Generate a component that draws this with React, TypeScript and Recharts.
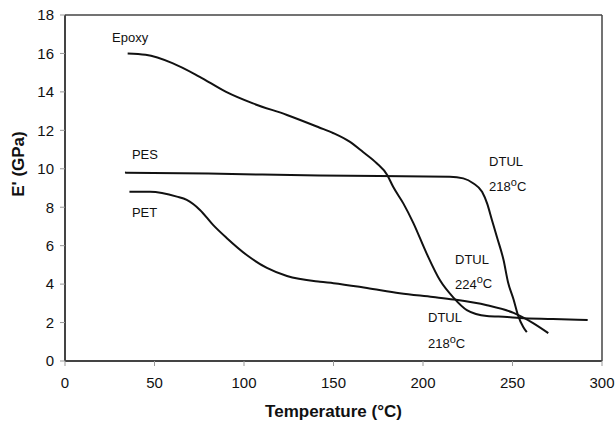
import { LineChart, Line, XAxis, YAxis, ReferenceLine, ReferenceDot, Label } from "recharts";

type Pt = { t: number; e: number };

const xTicks = [0, 50, 100, 150, 200, 250, 300];
const yTicks = [0, 2, 4, 6, 8, 10, 12, 14, 16, 18];

const epoxy: Pt[] = [
  { t: 35, e: 16.0 }, { t: 45, e: 15.93 }, { t: 60, e: 15.5 }, { t: 75, e: 14.8 },
  { t: 90, e: 14.0 }, { t: 105, e: 13.4 }, { t: 124, e: 12.8 }, { t: 142, e: 12.15 },
  { t: 150, e: 11.85 }, { t: 159, e: 11.41 }, { t: 166.5, e: 10.87 }, { t: 174, e: 10.3 },
  { t: 180, e: 9.68 }, { t: 183.4, e: 9.05 }, { t: 189, e: 8.2 }, { t: 194.5, e: 7.2 },
  { t: 202, e: 5.6 }, { t: 209.5, e: 4.2 }, { t: 217, e: 3.3 }, { t: 224.5, e: 2.65 },
  { t: 235.7, e: 2.34 }, { t: 247, e: 2.29 }, { t: 254, e: 2.24 }, { t: 272.6, e: 2.19 },
  { t: 292, e: 2.13 },
];

const pes: Pt[] = [
  { t: 33.5, e: 9.8 }, { t: 80, e: 9.75 }, { t: 142, e: 9.65 }, { t: 215, e: 9.59 },
  { t: 222.5, e: 9.5 }, { t: 228, e: 9.25 }, { t: 233, e: 8.8 }, { t: 235.8, e: 8.2 },
  { t: 238.5, e: 7.34 }, { t: 241.3, e: 6.45 }, { t: 245, e: 5.25 }, { t: 247.5, e: 4.1 },
  { t: 250.6, e: 3.2 }, { t: 253, e: 2.4 }, { t: 256, e: 1.77 }, { t: 258, e: 1.5 },
];

const pet: Pt[] = [
  { t: 36, e: 8.8 }, { t: 47.5, e: 8.8 }, { t: 62.5, e: 8.55 }, { t: 68, e: 8.38 },
  { t: 75.4, e: 7.86 }, { t: 82.7, e: 7.08 }, { t: 90.3, e: 6.4 }, { t: 101.7, e: 5.5 },
  { t: 112.8, e: 4.84 }, { t: 124, e: 4.42 }, { t: 142.5, e: 4.12 }, { t: 150, e: 4.05 },
  { t: 168.7, e: 3.8 }, { t: 187, e: 3.53 }, { t: 205.6, e: 3.33 }, { t: 217, e: 3.2 },
  { t: 235.7, e: 2.9 }, { t: 250.6, e: 2.5 }, { t: 261.5, e: 1.97 }, { t: 270, e: 1.45 },
];

const notes = [
  { t: 26.3, e: 16.8, text: "Epoxy", sup: "" },
  { t: 37.4, e: 10.67, text: "PES", sup: "" },
  { t: 37.4, e: 7.65, text: "PET", sup: "" },
  { t: 236.9, e: 10.3, text: "DTUL", sup: "" },
  { t: 236.9, e: 9.0, text: "218", sup: "C" },
  { t: 217.9, e: 5.2, text: "DTUL", sup: "" },
  { t: 217.9, e: 3.95, text: "224", sup: "C" },
  { t: 202.8, e: 2.19, text: "DTUL", sup: "" },
  { t: 202.8, e: 0.83, text: "218", sup: "C" },
];

const font = "'Liberation Sans', Arial, sans-serif";

export default function App() {
  return (
    <div style={{ position: "absolute", left: 0, top: 0, background: "#fff" }}>
      <LineChart width={615} height={421} margin={{ top: 15, right: 13, left: 0, bottom: 0 }}>
        <XAxis
          type="number"
          dataKey="t"
          domain={[0, 300]}
          ticks={xTicks}
          height={60}
          tickSize={5}
          tickMargin={11}
          axisLine={{ stroke: "#444", strokeWidth: 2 }}
          tickLine={{ stroke: "#999" }}
          tick={{ fill: "#111", fontSize: 15, fontFamily: font }}
          allowDuplicatedCategory={false}
        >
          <Label value="Temperature (°C)" position="insideBottom" offset={4} style={{ fill: "#111", fontSize: 17, fontWeight: "bold", fontFamily: font }} />
        </XAxis>
        <YAxis
          type="number"
          dataKey="e"
          domain={[0, 18]}
          ticks={yTicks}
          width={65}
          tickSize={5}
          tickMargin={6}
          axisLine={{ stroke: "#444", strokeWidth: 2 }}
          tickLine={{ stroke: "#999" }}
          tick={{ fill: "#111", fontSize: 15, fontFamily: font }}
        >
          <Label value="E' (GPa)" angle={-90} position="insideLeft" offset={18} dy={-24} style={{ fill: "#111", fontSize: 17, fontWeight: "bold", fontFamily: font, textAnchor: "middle" }} />
        </YAxis>
        <ReferenceLine y={18} stroke="#444" strokeWidth={1.5} />
        <ReferenceLine x={300} stroke="#444" strokeWidth={1.5} />
        <Line data={epoxy} dataKey="e" type="monotone" stroke="#111" strokeWidth={2} dot={false} isAnimationActive={false} />
        <Line data={pes} dataKey="e" type="monotone" stroke="#111" strokeWidth={2} dot={false} isAnimationActive={false} />
        <Line data={pet} dataKey="e" type="monotone" stroke="#111" strokeWidth={2} dot={false} isAnimationActive={false} />
        {notes.map((n, i) => (
          <ReferenceDot
            key={i}
            x={n.t}
            y={n.e}
            r={0}
            shape={(p: any) => (
              <text x={p.cx} y={p.cy} dominantBaseline="middle" fontSize={13} fontFamily={font} fill="#111">
                {n.text}
                {n.sup ? (
                  <>
                    <tspan dy={-5} fontSize={11}>o</tspan>
                    <tspan dy={5}>{n.sup}</tspan>
                  </>
                ) : null}
              </text>
            )}
          />
        ))}
      </LineChart>
    </div>
  );
}
